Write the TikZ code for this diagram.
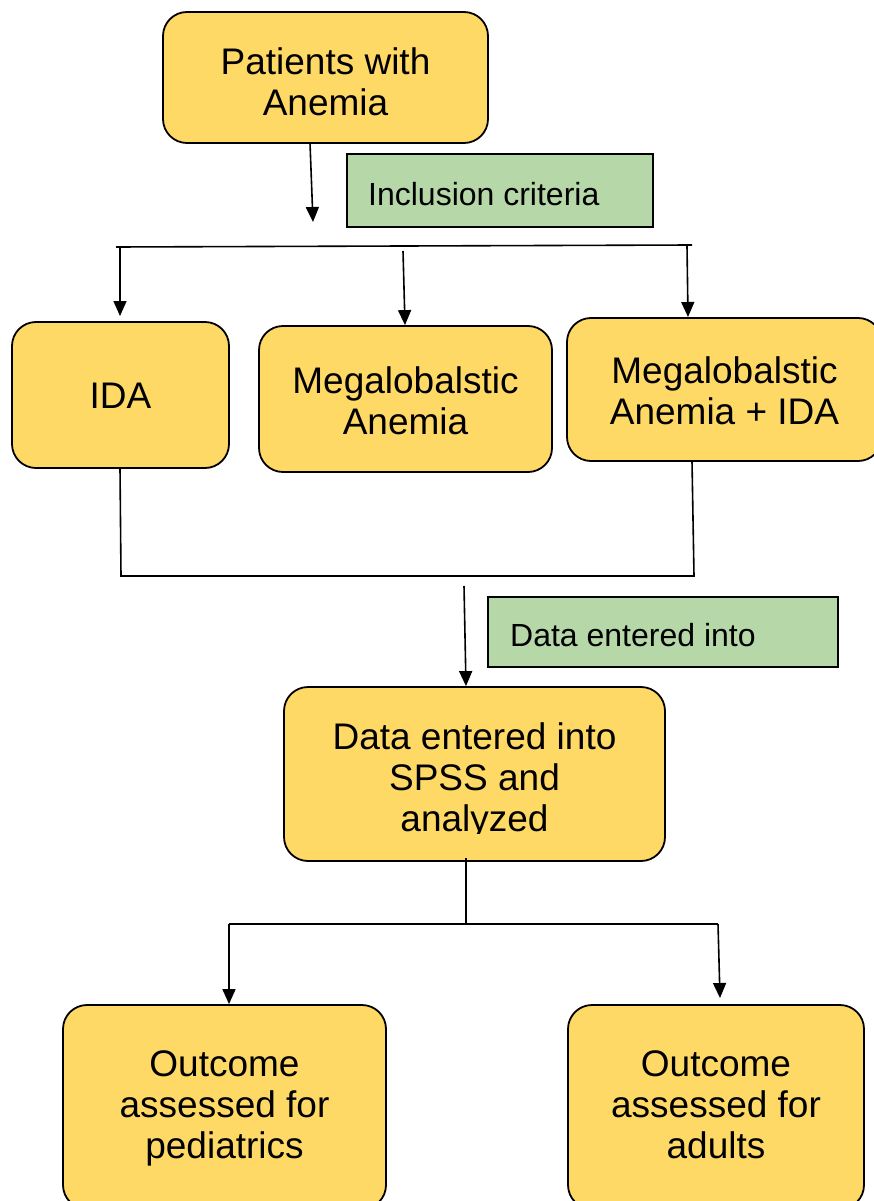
\documentclass[tikz,border=0pt]{standalone}
\usepackage{fontspec}
\setmainfont{Liberation Sans}
\usetikzlibrary{arrows.meta}
\definecolor{boxyellow}{RGB}{255,217,102}
\definecolor{boxgreen}{RGB}{182,215,168}
\begin{document}
\begin{tikzpicture}[x=1pt,y=-1pt,
  ybox/.style={draw=black, line width=1.8pt, fill=boxyellow, rounded corners=24pt, inner sep=0pt, align=center, font=\fontsize{37}{41}\selectfont},
  gbox/.style={draw=black, line width=1.5pt, fill=boxgreen, inner sep=0pt},
  gtxt/.style={inner sep=0pt, font=\fontsize{32}{36}\selectfont},
  txt/.style={inner sep=0pt, align=center, font=\fontsize{37}{41}\selectfont},
  conn/.style={draw=black, line width=1.6pt},
  arr/.style={conn, -{Triangle[length=15pt,width=13pt]}}]
\useasboundingbox (0,0) rectangle (874,1201);
\clip (0,0) rectangle (874,1201);
% boxes
\node[ybox, minimum width=325, minimum height=131] (pat) at (325.5,77.5) {};
\node[txt] (pattxt) at (325.5,82) {Patients with\\Anemia};
\node[gbox, minimum width=306, minimum height=73] (incl) at (500,190.5) {};
\node[gtxt, anchor=base west] (incltxt) at (368,205) {Inclusion criteria};
\node[ybox, minimum width=217, minimum height=146] (ida) at (120.5,395) {};
\node[txt] (idatxt) at (120.5,396) {IDA};
\node[ybox, minimum width=293, minimum height=146] (meg) at (405.5,399) {};
\node[txt] (megtxt) at (405.5,400.3) {Megalobalstic\\Anemia};
\node[ybox, minimum width=315, minimum height=143] (megida) at (724.5,389.5) {};
\node[txt] (megidatxt) at (724.5,390.3) {Megalobalstic\\Anemia + IDA};
\node[gbox, minimum width=350, minimum height=70] (dent) at (663,632) {};
\node[gtxt, anchor=base west] (denttxt) at (510,646.7) {Data entered into};
\node[ybox, minimum width=381, minimum height=174] (spss) at (474.5,774) {};
\begin{scope}
  \clip (284,687) rectangle (665,833);
  \node[txt] (spsstxt) at (474.5,781.4) {Data entered into\\SPSS and\\analyzed};
\end{scope}
\node[ybox, minimum width=323, minimum height=204] (ped) at (224.5,1107) {};
\node[txt] (pedtxt) at (224.5,1108) {Outcome\\assessed for\\pediatrics};
\node[ybox, minimum width=296, minimum height=204] (adu) at (716,1107) {};
\node[txt] (adutxt) at (716,1104.5) {Outcome\\assessed for\\adults};
% junction coordinates
\coordinate (p1) at (310,143);
\coordinate (p1e) at (313,222);
\coordinate (barL) at (116,247);
\coordinate (barR) at (692,245);
\coordinate (bL) at (120,247);
\coordinate (bM) at (403,251);
\coordinate (bR) at (687,246);
\coordinate (idaB) at (120,468);
\coordinate (jL) at (121,576);
\coordinate (megB) at (692,461);
\coordinate (jR) at (694,576);
\coordinate (d1) at (464,586);
\coordinate (spB) at (466,858);
\coordinate (jM) at (466,924);
\coordinate (kL) at (229,924);
\coordinate (kR) at (718,924);
% connectors
\draw[arr] (p1) -- (p1e);
\draw[conn] (barL) -- (barR);
\draw[arr] (bL) -- (120,316);
\draw[arr] (bM) -- (meg.north -| 405,0);
\draw[arr] (bR) -- (688,317);
\draw[conn] (idaB) -- (jL) -- (jR) -- (megB);
\draw[arr] (d1) -- (spss.north -| 466,0);
\draw[conn] (spB) -- (jM);
\draw[conn] (kL) -- (kR);
\draw[arr] (kL) -- (ped.north -| 229,0);
\draw[arr] (kR) -- (720,998);
\end{tikzpicture}
\end{document}
